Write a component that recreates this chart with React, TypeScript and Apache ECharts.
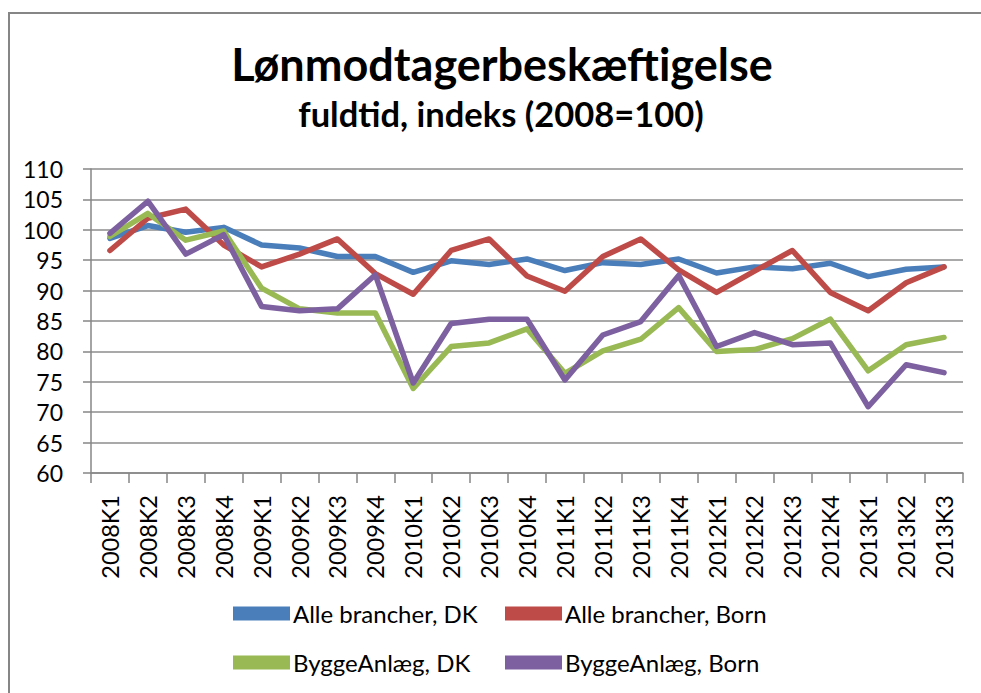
import React, { useEffect, useRef } from "react";
import * as echarts from "echarts";

const categories = [
  "2008K1", "2008K2", "2008K3", "2008K4",
  "2009K1", "2009K2", "2009K3", "2009K4",
  "2010K1", "2010K2", "2010K3", "2010K4",
  "2011K1", "2011K2", "2011K3", "2011K4",
  "2012K1", "2012K2", "2012K3", "2012K4",
  "2013K1", "2013K2", "2013K3",
];

const alleDK = [98.6, 100.7, 99.6, 100.4, 97.5, 97.0, 95.6, 95.6, 93.0, 94.9, 94.3, 95.2, 93.3, 94.6, 94.3, 95.2, 92.9, 93.9, 93.6, 94.5, 92.3, 93.5, 93.9];
const alleBorn = [96.6, 101.9, 103.4, 97.5, 93.9, 96.0, 98.5, 92.8, 89.4, 96.6, 98.5, 92.4, 89.9, 95.6, 98.5, 93.4, 89.7, 93.2, 96.6, 89.7, 86.7, 91.3, 93.9];
const byggeDK = [98.9, 102.7, 98.3, 99.8, 90.4, 87.0, 86.3, 86.3, 73.9, 80.8, 81.4, 83.7, 76.4, 80.1, 82.0, 87.2, 80.0, 80.3, 82.1, 85.3, 76.8, 81.1, 82.3];
const byggeBorn = [99.4, 104.7, 96.0, 99.2, 87.4, 86.7, 87.0, 92.6, 74.8, 84.6, 85.3, 85.3, 75.3, 82.7, 84.9, 92.5, 80.8, 83.1, 81.1, 81.4, 70.9, 77.8, 76.5];

const seriesNames = [
  "Alle brancher, DK",
  "Alle brancher, Born",
  "ByggeAnlæg, DK",
  "ByggeAnlæg, Born",
];
const seriesColors = ["#4A7EBB", "#BE4B48", "#98B954", "#7D60A0"];
const seriesData = [alleDK, alleBorn, byggeDK, byggeBorn];

const titleText = "Lønmodtagerbeskæftigelse";
const subtitleText = "fuldtid, indeks (2008=100)";

const FONT = "Lato, 'Open Sans', sans-serif";

export default function App() {
  const ref = useRef<HTMLDivElement>(null);

  useEffect(() => {
    if (!ref.current) return;
    const chart = echarts.init(ref.current, undefined, { renderer: "svg" });
    chart.setOption({
      animation: false,
      backgroundColor: "#ffffff",
      textStyle: { fontFamily: FONT },
      graphic: [
        {
          type: "rect",
          z: -1,
          shape: { x: 9, y: 13, width: 1000, height: 700 },
          style: { fill: "#ffffff", stroke: "#868686", lineWidth: 2 },
        },
        {
          type: "text",
          x: 502,
          y: 64,
          style: {
            text: titleText,
            fontFamily: FONT,
            fontWeight: "bold",
            fontSize: 45,
            fill: "#000",
            align: "center",
            verticalAlign: "middle",
          },
        },
        {
          type: "text",
          x: 501,
          y: 113,
          style: {
            text: subtitleText,
            fontFamily: FONT,
            fontWeight: "bold",
            fontSize: 34.5,
            fill: "#000",
            align: "center",
            verticalAlign: "middle",
          },
        },
      ],
      legend: {
        data: seriesNames,
        left: 233,
        top: 600,
        width: 560,
        padding: 0,
        itemWidth: 57,
        itemHeight: 14,
        itemGap: 22,
        icon: "rect",
        textStyle: {
          fontFamily: FONT,
          fontSize: 24,
          color: "#000",
          width: 190,
          lineHeight: 27,
          padding: [0, 0, 0, -2],
        },
      },
      grid: {
        left: 91,
        right: 18,
        top: 169,
        bottom: 220,
        containLabel: false,
      },
      xAxis: {
        type: "category",
        data: categories,
        boundaryGap: true,
        axisLine: { lineStyle: { color: "#868686", width: 1.5 } },
        axisTick: { show: true, length: 10, lineStyle: { color: "#868686", width: 1.5 } },
        axisLabel: {
          rotate: 90,
          interval: 0,
          margin: 22,
          fontSize: 23.5,
          color: "#000",
          fontFamily: FONT,
        },
      },
      yAxis: {
        type: "value",
        min: 60,
        max: 110,
        interval: 5,
        axisLine: { show: true, lineStyle: { color: "#868686", width: 1.5 } },
        axisTick: { show: true, length: 8, lineStyle: { color: "#868686", width: 1.5 } },
        splitLine: { show: true, lineStyle: { color: "#8C8C8C", width: 1.5 } },
        axisLabel: {
          margin: 28,
          fontSize: 23,
          color: "#000",
          fontFamily: FONT,
        },
      },
      series: seriesNames.map((name, i) => ({
        name,
        type: "line",
        data: seriesData[i],
        symbol: "none",
        color: seriesColors[i],
        lineStyle: { width: 5.5, color: seriesColors[i], cap: "round", join: "round" },
        itemStyle: { color: seriesColors[i] },
      })),
    });
    return () => chart.dispose();
  }, []);

  return (
    <div
      ref={ref}
      style={{ position: "fixed", left: 0, top: 0, width: 981, height: 693 }}
    />
  );
}
